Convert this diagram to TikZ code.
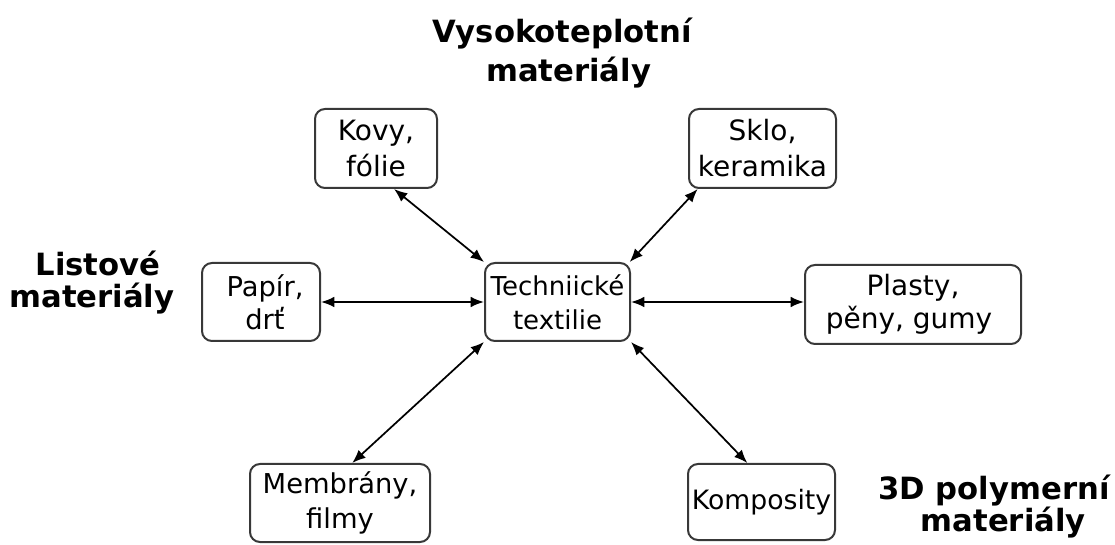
\documentclass[tikz,border=0pt]{standalone}
\usepackage{fontspec}
\setmainfont{DejaVu Sans}
\usetikzlibrary{arrows.meta}
\tikzset{
  matbox/.style={draw=black!78, line width=1.5pt, rounded corners=7.5pt, align=center,
    inner sep=0pt, font=\fontsize{21}{27}\selectfont},
  biarrow/.style={line width=1.3pt, {Latex[length=10pt,width=8pt]}-{Latex[length=10pt,width=8pt]}},
  grouplabel/.style={align=center, font=\bfseries\fontsize{23}{24}\selectfont, inner sep=0pt}
}
\begin{document}
\begin{tikzpicture}[x=0.75pt,y=-0.75pt]
\useasboundingbox (0,0) rectangle (1115,545);
\node[matbox, font=\fontsize{19.5}{25.5}\selectfont, minimum width=145*0.75pt, minimum height=78*0.75pt] (c) at (557.5,302) {Techniické\\textilie};
\node[matbox, minimum width=122*0.75pt, minimum height=79*0.75pt] (kovy) at (376,148.5) {Kovy,\\fólie};
\node[matbox, minimum width=147*0.75pt, minimum height=79*0.75pt] (sklo) at (762.5,148.5) {Sklo,\\keramika};
\node[matbox, font=\fontsize{20.5}{25}\selectfont, minimum width=118*0.75pt, minimum height=78*0.75pt] (papir) at (261,302) {\hspace*{6pt}Papír,\\\hspace*{6pt}drť};
\node[matbox, font=\fontsize{21}{25}\selectfont, minimum width=216*0.75pt, minimum height=79*0.75pt] (plasty) at (913,304.5) {Plasty,\\pěny, gumy\hspace*{6pt}};
\node[matbox, font=\fontsize{20.5}{26}\selectfont, minimum width=180*0.75pt, minimum height=78*0.75pt] (mem) at (340,503) {Membrány,\\filmy};
\node[matbox, font=\fontsize{20}{26}\selectfont, minimum width=147*0.75pt, minimum height=76*0.75pt] (komp) at (761.5,502) {Komposity};

\draw[biarrow] (kovy.-66) -- (c.north west);
\draw[biarrow] (sklo.-148) -- (c.29);
\draw[biarrow] (papir.east) -- (c.west);
\draw[biarrow] (c.east) -- (c.east -| plasty.west);
\draw[biarrow] (mem.73) -- (c.south west);
\draw[biarrow] (komp.110) -- (c.south east);

\node[grouplabel, font=\bfseries\fontsize{23}{29}\selectfont] (vys) at (562,53) {Vysokoteplotní\\\hspace*{10pt}materiály};
\node[grouplabel] (list) at (92,283) {\hspace*{9pt}Listové\\materiály};
\node[grouplabel] (poly) at (994,507) {3D polymerní\\\hspace*{14pt}materiály};
\end{tikzpicture}
\end{document}
